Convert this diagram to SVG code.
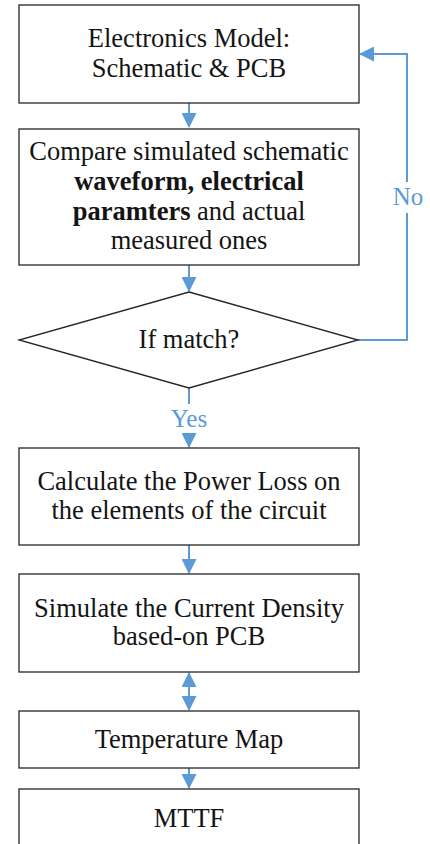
<svg xmlns="http://www.w3.org/2000/svg" width="430" height="844" viewBox="0 0 430 844">
  <style>
    .box { fill: #ffffff; stroke: #262626; stroke-width: 1.3; }
    .txt { font-family: "Liberation Serif", "Times New Roman", serif; font-size: 26.5px; fill: #141414; text-anchor: middle; }
    .b { font-weight: bold; }
    .lbl { font-family: "Liberation Serif", "Times New Roman", serif; font-size: 25px; fill: #5B9BD5; text-anchor: middle; }
    .conn { fill: none; stroke: #5B9BD5; stroke-width: 2; }
  </style>
  <defs>
    <marker id="arrow" markerUnits="userSpaceOnUse" markerWidth="15" markerHeight="15" refX="14" refY="7.5" orient="auto-start-reverse">
      <path d="M0,0 L15,7.5 L0,15 z" fill="#5B9BD5"/>
    </marker>
  </defs>

  <!-- connectors -->
  <g id="connectors">
    <path class="conn" d="M189,103 V127" marker-end="url(#arrow)"/>
    <path class="conn" d="M189,265 V291" marker-end="url(#arrow)"/>
    <path class="conn" d="M358,340 H407 V54 H360" marker-end="url(#arrow)"/>
    <path class="conn" d="M189,388 V447" marker-end="url(#arrow)"/>
    <path class="conn" d="M189,545 V573" marker-end="url(#arrow)"/>
    <path class="conn" d="M189,673 V710" marker-start="url(#arrow)" marker-end="url(#arrow)"/>
    <path class="conn" d="M189,768 V788" marker-end="url(#arrow)"/>
    <g id="label-no">
      <rect x="394" y="182" width="26" height="31" fill="#ffffff"/>
      <text class="lbl" x="408" y="205">No</text>
    </g>
    <g id="label-yes">
      <rect x="167" y="404" width="44" height="29" fill="#ffffff"/>
      <text class="lbl" x="189" y="427">Yes</text>
    </g>
  </g>

  <g id="model">
    <rect class="box" x="19" y="5" width="340" height="98"/>
    <text class="txt" x="189" y="47">Electronics Model:</text>
    <text class="txt" x="189" y="77">Schematic &amp; PCB</text>
  </g>

  <g id="compare">
    <rect class="box" x="19" y="129" width="340" height="136"/>
    <text class="txt" x="189" y="160">Compare simulated schematic</text>
    <text class="txt b" x="189" y="190">waveform, electrical</text>
    <text class="txt" x="189" y="220"><tspan class="b">paramters</tspan> and actual</text>
    <text class="txt" x="189" y="249">measured ones</text>
  </g>

  <g id="decision">
    <polygon class="box" points="189,292 358,340 189,388 19,340"/>
    <text class="txt" x="189" y="348">If match?</text>
  </g>

  <g id="power-loss">
    <rect class="box" x="19" y="448" width="340" height="97"/>
    <text class="txt" x="189" y="490">Calculate the Power Loss on</text>
    <text class="txt" x="189" y="519">the elements of the circuit</text>
  </g>

  <g id="current-density">
    <rect class="box" x="19" y="574" width="340" height="98"/>
    <text class="txt" x="189" y="617">Simulate the Current Density</text>
    <text class="txt" x="189" y="645">based-on PCB</text>
  </g>

  <g id="temperature">
    <rect class="box" x="19" y="711" width="340" height="57"/>
    <text class="txt" x="189" y="748">Temperature Map</text>
  </g>

  <g id="mttf">
    <rect class="box" x="19" y="789" width="340" height="70"/>
    <text class="txt" x="189" y="827">MTTF</text>
  </g>
</svg>
